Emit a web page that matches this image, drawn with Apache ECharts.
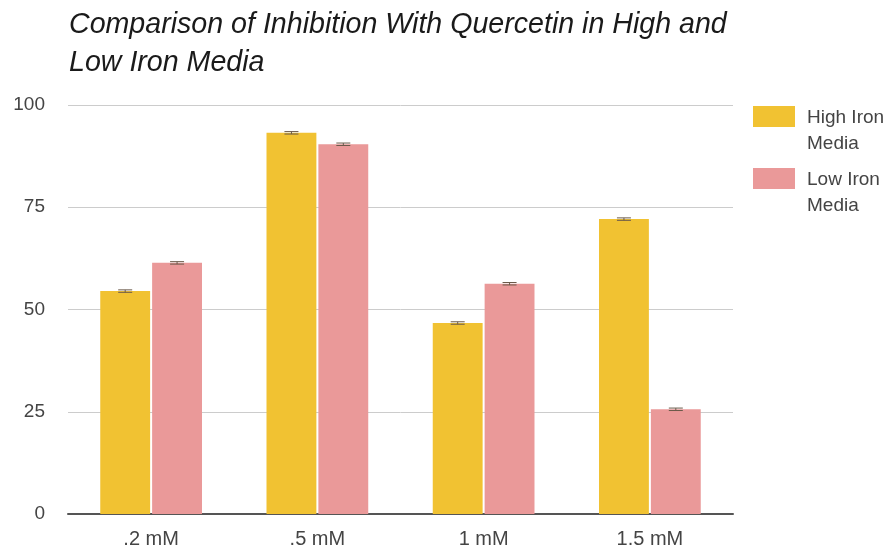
<!DOCTYPE html>
<html><head><meta charset="utf-8">
<script src="https://cdn.jsdelivr.net/npm/echarts@6/dist/echarts.min.js"></script>
<style>html,body{margin:0;padding:0;background:#fff}#c{width:895px;height:548px}</style>
</head><body><div id="c"></div>
<script>
const categories = ['.2 mM', '.5 mM', '1 mM', '1.5 mM'];
const highIron = [54.5, 93.2, 46.7, 72.1];
const lowIron = [61.4, 90.4, 56.3, 25.6];
const highErr = [0.3, 0.3, 0.3, 0.3];
const lowErr = [0.3, 0.3, 0.3, 0.3];
const yTicks = [0, 25, 50, 75, 100];
const seriesNames = ['High Iron\nMedia', 'Low Iron\nMedia'];

const FONT = '"Liberation Sans", Arial, sans-serif';
const chart = echarts.init(document.getElementById('c'));
function errSeries(idx, vals, errs) {
  return {
    type: 'custom', z: 10, silent: true,
    renderItem: function (params, api) {
      const i = api.value(0);
      const v = api.value(1), e = api.value(2);
      const hi = api.coord([i, v + e]);
      const lo = api.coord([i, v - e]);
      const bw = api.size([1, 0])[0];
      const barW = bw * 0.3;
      const offset = (idx === 0 ? -1 : 1) * (barW / 2 + 1);
      const x = hi[0] + offset;
      const w = 7;
      return {
        type: 'group', children: [
          { type: 'line', shape: { x1: x, y1: hi[1], x2: x, y2: lo[1] }, style: { stroke: '#6b5a4a', lineWidth: 1 } },
          { type: 'line', shape: { x1: x - w, y1: hi[1], x2: x + w, y2: hi[1] }, style: { stroke: '#6b5a4a', lineWidth: 1 } },
          { type: 'line', shape: { x1: x - w, y1: lo[1], x2: x + w, y2: lo[1] }, style: { stroke: '#6b5a4a', lineWidth: 1 } }
        ]
      };
    },
    data: vals.map((v, i) => [i, v, errs[i]])
  };
}
function legendFor(name, top) {
  return {
    orient: 'vertical', left: 748, top: top, itemWidth: 42, itemHeight: 21,
    icon: 'rect',
    formatter: n => '{s| }\n' + n.split('\n').map(p => '{t|' + p + '}').join('\n'),
    textStyle: {
      fontFamily: FONT, color: '#444',
      rich: {
        s: { fontSize: 1, lineHeight: 29 },
        t: { fontFamily: FONT, fontSize: 19, lineHeight: 26, color: '#444', padding: [0, 0, 0, 7] }
      }
    },
    data: [name]
  };
}
chart.setOption({
  animation: false,
  title: {
    text: 'Comparison of Inhibition With Quercetin in High and\nLow Iron Media',
    left: 64, top: 1,
    textStyle: { fontFamily: FONT, fontStyle: 'italic', fontWeight: 'normal', fontSize: 28.6, color: '#1a1a1a', lineHeight: 38 }
  },
  legend: [legendFor(seriesNames[0], 85), legendFor(seriesNames[1], 147)],
  grid: { left: 68, right: 162, top: 105, bottom: 34, outerBoundsMode: 'none' },
  xAxis: {
    type: 'category', data: categories,
    axisLine: { lineStyle: { color: '#555', width: 2 } },
    axisTick: { show: false },
    axisLabel: { fontFamily: FONT, fontSize: 20, color: '#444', margin: 15 }
  },
  yAxis: {
    type: 'value', min: 0, max: 100, interval: 25,
    axisLine: { show: false }, axisTick: { show: false },
    splitLine: { lineStyle: { color: '#ccc', width: 1 } },
    axisLabel: { fontFamily: FONT, fontSize: 19, color: '#444', margin: 23,
      formatter: v => yTicks.includes(v) ? String(v) : '' }
  },
  series: [
    { name: seriesNames[0], type: 'bar', data: highIron, barWidth: '30%', barGap: '4%', itemStyle: { color: '#F1C232' } },
    { name: seriesNames[1], type: 'bar', data: lowIron, barWidth: '30%', barGap: '4%', itemStyle: { color: '#EA9999' } },
    errSeries(0, highIron, highErr),
    errSeries(1, lowIron, lowErr)
  ]
});
</script></body></html>
